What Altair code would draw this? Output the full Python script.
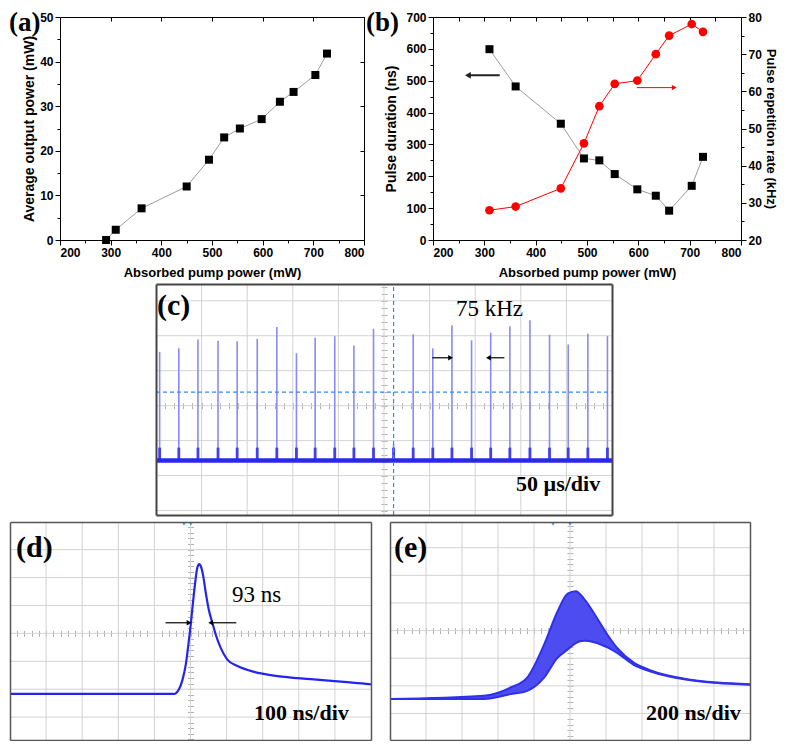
import altair as alt
import pandas as pd

SANS = "Liberation Sans, Arial, sans-serif"
SERIF = "Liberation Serif, Times New Roman, serif"

# ---------------- values ----------------
# (a) average output power vs absorbed pump power
a_pump = [291, 310, 361, 450, 494, 524, 555, 598, 634, 661, 704, 727]
a_power = [0.0, 2.3, 7.1, 12.0, 18.0, 23.0, 25.0, 27.1, 31.0, 33.2, 37.0, 41.8]

# (b) pulse duration (ns, left) and repetition rate (kHz, right)
b_pump = [310, 361, 449, 494, 524, 554, 598, 634, 660, 704, 726]
b_duration = [599, 482, 365, 256, 250, 207, 159, 139, 92, 170, 261]
b_rate = [28.0, 29.0, 33.9, 46.0, 56.0, 62.0, 62.9, 70.0, 75.0, 78.1, 76.0]
b_arrow_dur_x = [330, 268]
b_arrow_dur_y = 517
b_arrow_rate_x = [597, 670]
b_arrow_rate_y = 61.0

# (c) pulse train (screen divisions)
c_pos = [0.08, 0.50, 0.92, 1.36, 1.78, 2.22, 2.65, 3.08, 3.49, 3.92, 4.34, 4.77,
         5.21, 5.64, 6.07, 6.49, 6.92, 7.34, 7.76, 8.20, 8.63, 9.04, 9.47, 9.90]
c_peak = [4.54, 4.64, 4.89, 4.86, 4.84, 4.91, 5.25, 4.50, 4.94, 4.99, 4.72, 5.20,
          1.90, 5.04, 4.64, 5.30, 4.87, 5.09, 5.27, 5.44, 5.03, 4.75, 5.06, 4.99]
c_baseline = 1.43
c_tail_top = 1.80
c_trigger_x = 5.21
c_trigger_y = 3.39
c_arrow_y = 4.37
c_arrow_left = [6.06, 6.46]
c_arrow_right = [7.64, 7.29]

# (d) single pulse, 100 ns/div
d_time = [0.0, 4.54, 4.68, 4.77, 4.87, 4.94, 5.01, 5.07, 5.13, 5.19, 5.24, 5.28, 5.35,
          5.42, 5.51, 5.61, 5.70, 5.84, 6.02, 6.30, 6.76, 7.41, 8.33, 9.25, 9.95, 10.0]
d_volt = [0.83, 0.83, 1.00, 1.30, 1.89, 2.59, 3.36, 4.12, 4.83, 5.36, 5.48, 5.42, 5.07,
          4.48, 3.83, 3.36, 2.95, 2.47, 2.06, 1.83, 1.62, 1.47, 1.36, 1.26, 1.18, 1.17]
d_arrow_y = 3.38
d_arrow_left = [4.31, 4.96]
d_arrow_right = [6.27, 5.56]
d_trigger = [4.82, 5.01]

# (e) pulse envelope, 200 ns/div
e_time = [0.0, 2.61, 3.35, 3.81, 4.28, 4.65, 4.93, 5.16, 5.39, 5.67, 6.04, 6.31, 6.78, 7.24, 8.17, 9.09, 10.0]
e_upper = [0.52, 0.64, 0.94, 1.30, 2.49, 3.68, 4.33, 4.42, 4.15, 3.62, 2.85, 2.37, 1.83, 1.56, 1.26, 1.12, 1.06]
e_lower = [0.52, 0.52, 0.70, 0.82, 1.30, 2.01, 2.31, 2.55, 2.63, 2.58, 2.39, 2.19, 1.75, 1.52, 1.24, 1.10, 1.04]
e_trigger = [4.53, 5.0]

# scope screen grid (divisions)
scope_grid_x = [1, 2, 3, 4, 5, 6, 7, 8, 9]
scope_grid_y = [0, 1, 2, 3, 4, 5, 6]

# ---------------- canvas & panel geometry (pixels in the chart) ----------------
CW, CH = 771, 733
PA = dict(x0=52, x1=356, y0=9, y1=232, xdom=[200, 800], ydom=[0, 50])
PB = dict(x0=425, x1=733, y0=9, y1=232, xdom=[200, 800], ydom=[0, 700])
PB2 = dict(PB, ydom=[20, 80])
PC = dict(x0=148, x1=604, y0=276, y1=507, xdom=[0, 10], ydom=[-0.127, 6.48])
PD = dict(x0=2, x1=363, y0=514, y1=732, xdom=[0, 10], ydom=[-0.82, 6.99])
PE = dict(x0=382, x1=742, y0=514, y1=732, xdom=[0, 10], ydom=[-0.96, 6.93])


def X(field, p, axis=None):
    return alt.X(f"{field}:Q", axis=axis,
                 scale=alt.Scale(domain=p["xdom"], range=[p["x0"], p["x1"]], nice=False, zero=False))


def Y(field, p, axis=None):
    return alt.Y(f"{field}:Q", axis=axis,
                 scale=alt.Scale(domain=p["ydom"], range=[p["y1"], p["y0"]], nice=False, zero=False))


def at_bottom(ypix):
    return dict(orient="bottom", offset=ypix - CH)


def at_top(ypix):
    return dict(orient="top", offset=-ypix)


def at_left(xpix):
    return dict(orient="left", offset=-xpix)


def at_right(xpix):
    return dict(orient="right", offset=xpix - CW)


LAB = dict(labelFont=SANS, labelFontSize=12, labelFontWeight="bold", labelColor="black",
           titleFont=SANS, titleFontWeight="bold", titleColor="black",
           tickColor="black", tickWidth=1, grid=False, domainColor="black", domainWidth=1)


def main_axis(pos, values, title, title_size, pad):
    return alt.Axis(**pos, values=values, tickSize=5, labelPadding=2, title=title, domain=True,
                    titleFontSize=title_size, titlePadding=pad, **LAB)


def tick_axis(pos, values, size, domain=False):
    return alt.Axis(**pos, values=values, tickSize=size, labels=False, title=None, domain=domain, **LAB)


def label(txt, x, y, size=30, weight="bold", baseline="top"):
    return alt.Chart(pd.DataFrame({"t": [txt]})).mark_text(
        font=SERIF, fontSize=size, fontWeight=weight, align="left", baseline=baseline, color="black"
    ).encode(text="t:N", x=alt.value(x), y=alt.value(y))


layers = []

# ---------------- panel (a) ----------------
dfa = pd.DataFrame({"pump": a_pump, "power": a_power})
layers.append(alt.Chart(dfa).mark_line(color="#9c9c9c", strokeWidth=1).encode(
    x=X("pump", PA, main_axis(at_bottom(PA["y1"]), list(range(200, 801, 100)), "Absorbed pump power (mW)", 13, 8)),
    y=Y("power", PA, main_axis(at_left(PA["x0"]), list(range(0, 51, 10)), "Average output power (mW)", 14, 3)),
))
layers.append(alt.Chart(dfa).mark_square(size=64, color="black", opacity=1).encode(
    x=X("pump", PA, tick_axis(at_bottom(PA["y1"]), list(range(250, 800, 100)), 3)),
    y=Y("power", PA, tick_axis(at_left(PA["x0"]), list(range(5, 50, 10)), 3)),
))
layers.append(alt.Chart(dfa).mark_point(opacity=0).encode(
    x=X("pump", PA, tick_axis(at_bottom(PA["y0"]), list(range(200, 801, 100)), 4, True)),
    y=Y("power", PA, tick_axis(at_left(PA["x1"]), list(range(0, 51, 10)), 4, True)),
))
layers.append(label("(a)", 1, 2, 27))

# ---------------- panel (b) ----------------
dfb = pd.DataFrame({"pump": b_pump, "dur": b_duration, "rate": b_rate})
layers.append(alt.Chart(dfb).mark_line(color="#9c9c9c", strokeWidth=1).encode(
    x=X("pump", PB, main_axis(at_bottom(PB["y1"]), list(range(200, 801, 100)), "Absorbed pump power (mW)", 13, 8)),
    y=Y("dur", PB, main_axis(at_left(PB["x0"]), list(range(0, 701, 100)), "Pulse duration (ns)", 14, 7)),
))
layers.append(alt.Chart(dfb).mark_line(color="red", strokeWidth=1).encode(
    x=X("pump", PB2, tick_axis(at_bottom(PB["y0"]), list(range(200, 801, 50)), 4, True)),
    y=Y("rate", PB2, main_axis(at_right(PB["x1"]), list(range(20, 81, 10)), "Pulse repetition rate (kHz)", 13, 2)),
))
dfb_a1 = pd.DataFrame({"x1": [b_arrow_dur_x[0]], "x2": [b_arrow_dur_x[1]], "y": [b_arrow_dur_y]})
layers.append(alt.Chart(dfb_a1).mark_rule(color="#222", strokeWidth=2).encode(
    x=X("x1", PB), x2="x2:Q", y=Y("y", PB)))
layers.append(alt.Chart(dfb_a1).mark_point(shape="triangle-left", filled=True, size=45, color="#222", opacity=1).encode(
    x=X("x2", PB), y=Y("y", PB)))
dfb_a2 = pd.DataFrame({"x1": [b_arrow_rate_x[0]], "x2": [b_arrow_rate_x[1]], "y": [b_arrow_rate_y]})
layers.append(alt.Chart(dfb_a2).mark_rule(color="red", strokeWidth=1).encode(
    x=X("x1", PB2), x2="x2:Q", y=Y("y", PB2)))
layers.append(alt.Chart(dfb_a2).mark_point(shape="triangle-right", filled=True, size=30, color="red", opacity=1).encode(
    x=X("x2", PB2), y=Y("y", PB2)))
layers.append(alt.Chart(dfb).mark_square(size=64, color="black", opacity=1).encode(
    x=X("pump", PB, tick_axis(at_bottom(PB["y1"]), list(range(250, 800, 100)), 3)),
    y=Y("dur", PB, tick_axis(at_left(PB["x0"]), list(range(50, 700, 100)), 3)),
))
layers.append(alt.Chart(dfb).mark_circle(size=75, color="red", opacity=1).encode(
    x=X("pump", PB2),
    y=Y("rate", PB2, tick_axis(at_right(PB["x1"]), list(range(25, 80, 10)), 3)),
))
layers.append(label("(b)", 358, 2, 27))

# ---------------- scope panels ----------------
GRID = "#d3d3d3"
TICKC = "#b0b0b0"


def frame_axis(pos, color, width):
    return alt.Axis(**pos, domain=True, domainColor=color, domainWidth=width, ticks=False, labels=False,
                    grid=False, title=None, zindex=1)


def fine_axis(pos, values):
    return alt.Axis(**pos, values=values, ticks=True, tickSize=3, tickColor=TICKC, labels=False,
                    domain=False, grid=False, title=None)


def scope_frame(p, color="#555555", width=1.5):
    lo, hi = p["ydom"]
    gy = [v for v in scope_grid_y if lo < v < hi]
    dv = pd.DataFrame({"gx": scope_grid_x, "lo": lo, "hi": hi})
    dh = pd.DataFrame({"gy": gy, "l": 0.0, "r": 10.0})
    xc = p["x0"] + (p["x1"] - p["x0"]) / 2
    yc = p["y1"] - (p["y1"] - p["y0"]) * (3 - lo) / (hi - lo)
    fine_x = [round(0.2 * i, 1) for i in range(51)]
    fine_y = [round(0.2 * i, 1) for i in range(-10, 45) if lo <= 0.2 * i <= hi]
    out = [
        alt.Chart(dv).mark_rule(color=GRID, strokeWidth=1).encode(
            x=X("gx", p, frame_axis(at_bottom(p["y1"]), color, width)),
            y=Y("lo", p, frame_axis(at_left(p["x0"]), color, width)), y2="hi:Q"),
        alt.Chart(dh).mark_rule(color=GRID, strokeWidth=1).encode(
            x=X("l", p, frame_axis(at_top(p["y0"]), color, width)), x2="r:Q",
            y=Y("gy", p, frame_axis(at_right(p["x1"]), color, width))),
        alt.Chart(dh).mark_point(opacity=0).encode(
            x=X("l", p, fine_axis(at_bottom(yc), fine_x)),
            y=Y("gy", p, fine_axis(at_left(xc), fine_y))),
        alt.Chart(dh).mark_point(opacity=0).encode(
            x=X("l", p, fine_axis(at_top(yc), fine_x)),
            y=Y("gy", p, fine_axis(at_right(xc), fine_y))),
    ]
    return out


def arrows(p, xl, xr, yv):
    out = []
    for xs_, shape in ((xl, "triangle-right"), (xr, "triangle-left")):
        df = pd.DataFrame({"x1": [xs_[0]], "x2": [xs_[1]], "y": [yv]})
        out.append(alt.Chart(df).mark_rule(color="black", strokeWidth=1.2).encode(
            x=X("x1", p), x2="x2:Q", y=Y("y", p)))
        out.append(alt.Chart(df).mark_point(shape=shape, filled=True, size=30, color="black", opacity=1).encode(
            x=X("x2", p), y=Y("y", p)))
    return out


def trig(p, xs_):
    return alt.Chart(pd.DataFrame({"tx": xs_})).mark_point(
        shape="triangle-down", filled=True, size=16, color="#3a9cf5", opacity=1
    ).encode(x=X("tx", p), y=alt.value(p["y0"] + 2))


# (c)
layers += scope_frame(PC, "#444444", 2)
dfc = pd.DataFrame({"pos": c_pos, "peak": c_peak})
dfc["base"] = c_baseline
dfc["tail"] = c_tail_top
layers.append(alt.Chart(dfc).mark_rule(color="#8a8af5", strokeWidth=1.6).encode(
    x=X("pos", PC), y=Y("base", PC), y2="peak:Q"))
layers.append(alt.Chart(dfc).mark_rule(color="#4040ec", strokeWidth=2.8).encode(
    x=X("pos", PC), y=Y("base", PC), y2="tail:Q"))
layers.append(alt.Chart(pd.DataFrame({"x0": [0.0], "x1": [10.0], "lvl": [c_baseline]})).mark_rule(
    color="#2a2ae6", strokeWidth=4.5).encode(x=X("x0", PC), x2="x1:Q", y=Y("lvl", PC)))
layers.append(alt.Chart(pd.DataFrame({"ty": [c_trigger_y], "l": [0.0], "r": [10.0]})).mark_rule(
    color="#2f8cf0", strokeWidth=1.2, strokeDash=[4, 3]).encode(x=X("l", PC), x2="r:Q", y=Y("ty", PC)))
layers.append(alt.Chart(pd.DataFrame({"tx": [c_trigger_x], "lo": [PC["ydom"][0]], "hi": [PC["ydom"][1]]})).mark_rule(
    color="#2f8cf0", strokeWidth=1.2, strokeDash=[4, 3]).encode(x=X("tx", PC), y=Y("lo", PC), y2="hi:Q"))
layers += arrows(PC, c_arrow_left, c_arrow_right, c_arrow_y)
layers.append(label("(c)", 149, 283, 30))
layers.append(label("75 kHz", 448, 308, 23, "normal", "alphabetic"))
layers.append(label("50 µs/div", 508, 483, 22, "bold", "alphabetic"))

# (d)
layers += scope_frame(PD)
dfd = pd.DataFrame({"t": d_time, "v": d_volt})
layers.append(alt.Chart(dfd).mark_line(color="#2424f2", strokeWidth=2.2, interpolate="monotone").encode(
    x=X("t", PD), y=Y("v", PD)))
layers += arrows(PD, d_arrow_left, d_arrow_right, d_arrow_y)
layers.append(trig(PD, d_trigger))
layers.append(label("(d)", 8, 525, 30))
layers.append(label("93 ns", 224, 594, 23, "normal", "alphabetic"))
layers.append(label("100 ns/div", 246, 712, 22, "bold", "alphabetic"))

# (e)
layers += scope_frame(PE)
dfe = pd.DataFrame({"t": e_time, "hi": e_upper, "lo": e_lower})
layers.append(alt.Chart(dfe).mark_area(color="#4c4cf0", opacity=1, interpolate="monotone").encode(
    x=X("t", PE), y=Y("hi", PE), y2="lo:Q"))
layers.append(alt.Chart(dfe).mark_line(color="#3030ea", strokeWidth=2, interpolate="monotone").encode(
    x=X("t", PE), y=Y("hi", PE)))
layers.append(alt.Chart(dfe).mark_line(color="#3030ea", strokeWidth=2, interpolate="monotone").encode(
    x=X("t", PE), y=Y("lo", PE)))
layers.append(trig(PE, e_trigger))
layers.append(label("(e)", 386, 525, 30))
layers.append(label("200 ns/div", 638, 712, 22, "bold", "alphabetic"))

chart = alt.layer(*layers).resolve_scale(x="independent", y="independent").properties(
    width=CW, height=CH, padding=0, background="white",
    autosize=alt.AutoSizeParams(type="none"),
).configure_view(strokeWidth=0)

chart.save("out.html", embed_options={"renderer": "svg", "actions": False})
